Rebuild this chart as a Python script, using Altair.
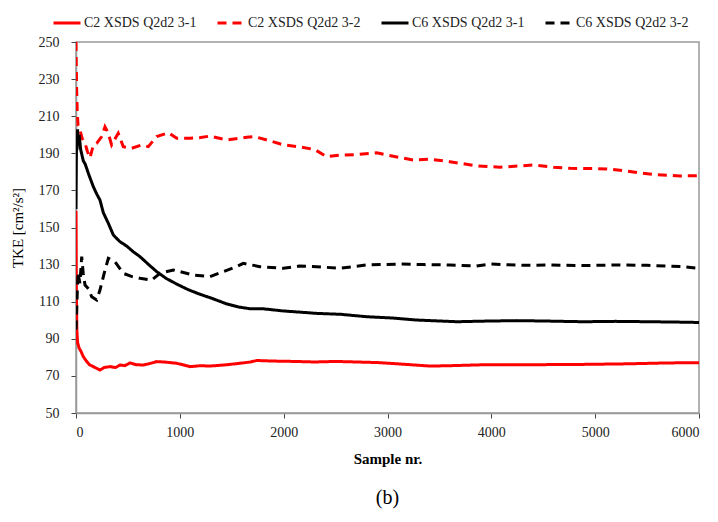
import altair as alt
import pandas as pd

SERIES = ["C2 XSDS Q2d2 3-1", "C2 XSDS Q2d2 3-2", "C6 XSDS Q2d2 3-1", "C6 XSDS Q2d2 3-2"]
COLORS = ["#ff0000", "#ff0000", "#000000", "#000000"]
DASHES = [[1, 0], [9, 6], [1, 0], [9, 6]]

c2_31_x = [0, 3, 8, 15, 30, 50, 70, 100, 130, 167, 200, 231, 270, 327, 380, 424, 470, 520, 580, 648, 700, 777, 850, 970, 1098, 1200, 1290, 1450, 1579, 1680, 1740, 1900, 2100, 2300, 2500, 2700, 2900, 3100, 3409, 3600, 3920, 4300, 4883, 5300, 5700, 6000]
c2_31_y = [159, 120, 95, 88, 85, 83, 80.4, 78, 76, 75, 74, 73.2, 74.5, 75, 74.5, 75.9, 75.5, 77, 76, 75.9, 76.5, 77.7, 77.5, 76.8, 75, 75.5, 75.3, 76, 76.8, 77.5, 78.3, 78, 77.8, 77.5, 77.8, 77.5, 77.2, 76.5, 75.3, 75.5, 76, 76, 76.2, 76.5, 77, 77.1]

c2_32_x = [0, 2, 6, 12, 20, 38, 60, 87, 110, 135, 167, 199, 247, 279, 310, 343, 407, 455, 536, 632, 696, 777, 889, 970, 1098, 1200, 1290, 1451, 1644, 1720, 1850, 2000, 2150, 2300, 2414, 2550, 2700, 2896, 3000, 3245, 3409, 3600, 3858, 4083, 4401, 4600, 4757, 5000, 5142, 5300, 5460, 5600, 5816, 6000]
c2_32_y = [250, 240, 225, 212, 205, 202.6, 198, 195.4, 191, 187.5, 194.5, 195.4, 199, 204.3, 201, 194.5, 200.8, 193.6, 192.7, 194.5, 193.6, 199, 201.1, 198.1, 198.1, 198.5, 199.3, 197.2, 198.6, 199, 197, 194.5, 193.5, 192, 188.2, 189, 189.3, 190.3, 189, 186.4, 186.8, 185.5, 183.2, 182.5, 183.7, 182.5, 181.9, 181.8, 181.4, 180.5, 179.2, 178.5, 177.8, 177.9]

c6_31_x = [0, 3, 6, 10, 15, 20, 30, 45, 70, 90, 119, 140, 167, 200, 231, 263, 311, 359, 420, 488, 550, 616, 700, 777, 870, 970, 1080, 1194, 1300, 1451, 1560, 1676, 1800, 1997, 2150, 2318, 2550, 2799, 3050, 3281, 3500, 3666, 3900, 4244, 4500, 4886, 5200, 5528, 5800, 6000]
c6_31_y = [160, 185, 198, 192, 203, 196, 200, 192, 186, 184, 179.2, 176, 172, 168, 164.8, 158, 152.3, 146, 142.5, 140, 137, 134.3, 130, 126.2, 122.5, 119.5, 116.5, 114, 112, 108.8, 107.2, 106.2, 106.2, 105, 104.4, 103.7, 103.2, 101.9, 101.2, 100.1, 99.6, 99.2, 99.5, 99.8, 99.6, 99.2, 99.4, 99.2, 99, 98.8]

c6_32_x = [0, 5, 12, 20, 30, 38, 55, 70, 87, 120, 151, 199, 231, 270, 311, 375, 455, 540, 616, 729, 809, 937, 1130, 1290, 1418, 1550, 1611, 1772, 1997, 2150, 2318, 2542, 2799, 3120, 3350, 3602, 3858, 3987, 4300, 4564, 4900, 5207, 5500, 5848, 6000]
c6_32_y = [95, 102, 115, 126, 122, 120, 134.3, 125, 119, 117, 112.7, 110.9, 116.3, 125, 133.4, 131.6, 125.3, 123.5, 122.6, 121.7, 125.3, 127.1, 124.4, 123.5, 126.2, 129, 130.7, 128.9, 128, 129.2, 128.9, 128, 129.8, 130.3, 130, 129.8, 129.2, 130.3, 129.6, 129.8, 129.5, 129.8, 129.6, 128.9, 128]

frames = []
for i, (xs, ys) in enumerate([(c2_31_x, c2_31_y), (c2_32_x, c2_32_y), (c6_31_x, c6_31_y), (c6_32_x, c6_32_y)]):
    frames.append(pd.DataFrame({"sample": xs, "tke": ys, "series": SERIES[i], "ord": i}))
df = pd.concat(frames, ignore_index=True)

FONT = "Liberation Serif"

chart = alt.Chart(df).mark_line(strokeWidth=3, clip=True).encode(
    x=alt.X("sample:Q", title="Sample nr.",
            scale=alt.Scale(domain=[0, 6000], nice=False),
            axis=alt.Axis(values=[0, 1000, 2000, 3000, 4000, 5000, 6000], format="d",
                          titleFontWeight="bold", titleFontSize=15, titlePadding=12,
                          labelPadding=7)),
    y=alt.Y("tke:Q", title="TKE [cm²/s²]",
            scale=alt.Scale(domain=[50, 250], nice=False, zero=False),
            axis=alt.Axis(values=list(range(50, 251, 20)), titleFontWeight="normal",
                          titleFontSize=15, titlePadding=13, labelPadding=12)),
    color=alt.Color("series:N", scale=alt.Scale(domain=SERIES, range=COLORS),
                    legend=alt.Legend(title=None, orient="none", legendX=-24, legendY=-34,
                                      direction="horizontal", columns=4, symbolType="stroke",
                                      symbolSize=729, symbolStrokeWidth=3, labelFontSize=14,
                                      labelFont=FONT, labelLimit=250, columnPadding=14,
                                      labelOffset=2, padding=0)),
    strokeDash=alt.StrokeDash("series:N", scale=alt.Scale(domain=SERIES, range=DASHES), legend=None),
    detail="series:N",
    order=alt.Order("sample:Q"),
).properties(
    width=623, height=371,
    autosize=alt.AutoSizeParams(type="none"),
    padding={"left": 68, "top": 34, "right": 10, "bottom": 106},
    title=alt.Title("(b)", orient="bottom", fontSize=20, font=FONT, fontWeight="normal", offset=22),
).configure_view(
    stroke="#999999", strokeWidth=1.5
).configure_axis(
    grid=False, domainColor="#999999", domainWidth=1.5, tickColor="#444444", tickSize=5,
    labelFont=FONT, titleFont=FONT, labelFontSize=14, labelColor="#222222", titleColor="#000000"
).configure_legend(
    labelColor="#222222"
)

chart.save("out.html", embed_options={"renderer": "svg", "actions": False})
